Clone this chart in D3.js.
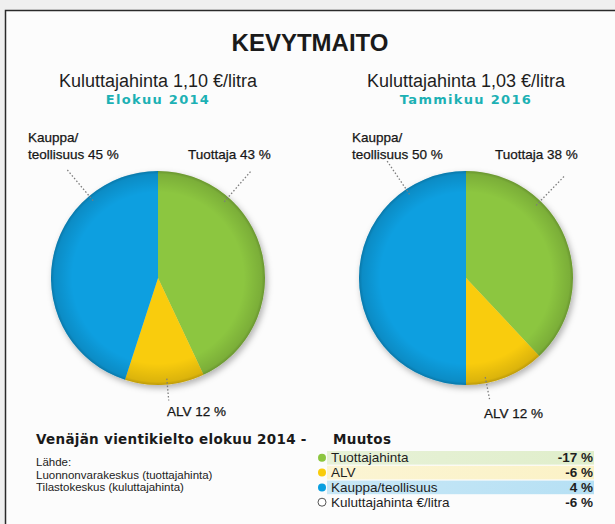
<!DOCTYPE html>
<html>
<head>
<meta charset="utf-8">
<script src="https://cdn.jsdelivr.net/npm/d3@7"></script>
<style>
  html, body { margin: 0; padding: 0; background: #efefef; }
  svg { display: block; }
</style>
</head>
<body>
<svg id="chart"></svg>
<script>
const width = 615, height = 524;

// data
const parts = ["Tuottaja", "ALV", "Kauppa/teollisuus"];
const pieTitles = ["Kuluttajahinta 1,10 €/litra", "Kuluttajahinta 1,03 €/litra"];
const pieDates = ["Elokuu 2014", "Tammikuu 2016"];
const shares2014 = [43, 12, 45];
const shares2016 = [38, 12, 50];
const changeNames = ["Tuottajahinta", "ALV", "Kauppa/teollisuus", "Kuluttajahinta €/litra"];
const changeValues = [-17, -6, 4, -6];
const sources = ["Lähde:", "Luonnonvarakeskus (tuottajahinta)", "Tilastokeskus (kuluttajahinta)"];

const colors = ["#8cc63f", "#f9cc0c", "#0a9fe0"];
const bandColors = ["#e0eecb", "#fbf2c6", "#b6e0f4"];
const narrow = "'Liberation Sans Narrow', 'Arial Narrow', 'Liberation Sans', sans-serif";
const wide = "'DejaVu Sans', sans-serif";

const svg = d3.select("#chart").attr("width", width).attr("height", height);

const defs = svg.append("defs");
const shadow = defs.append("filter").attr("id", "shadow")
    .attr("x", "-20%").attr("y", "-20%").attr("width", "140%").attr("height", "140%");
shadow.append("feDropShadow")
    .attr("dx", 2).attr("dy", 3).attr("stdDeviation", 3)
    .attr("flood-color", "#000").attr("flood-opacity", 0.3);

const rim = defs.append("radialGradient").attr("id", "rim");
rim.append("stop").attr("offset", "0.8").attr("stop-color", "#000").attr("stop-opacity", 0);
rim.append("stop").attr("offset", "0.97").attr("stop-color", "#000").attr("stop-opacity", 0.12);
rim.append("stop").attr("offset", "1").attr("stop-color", "#000").attr("stop-opacity", 0.25);

// panel
svg.append("rect")
    .attr("x", 5.5).attr("y", 10.5)
    .attr("width", width + 10).attr("height", height)
    .attr("fill", "#fcfcfc").attr("stroke", "#2a2a2a").attr("stroke-width", 1.5);

svg.append("text")
    .attr("x", 310).attr("y", 51)
    .attr("text-anchor", "middle")
    .attr("font-family", "'Liberation Sans', Arial, sans-serif")
    .attr("font-weight", "bold").attr("font-size", 24).attr("fill", "#1a1a1a")
    .text("KEVYTMAITO");

// pies
const x = d3.scaleBand().domain([0, 1]).range([4, 620]);
const r = 107, cy = 278;

const pie = d3.pie().sort(null).value(d => d);
const arc = d3.arc().innerRadius(0).outerRadius(r);

// label layout: angle of the leader on the slice, text offset from centre
const layouts = [
    [
        { angle: 41, len: 34, dx: 30, dy: -119 },
        { angle: 175, len: 16, dx: 9, dy: 138 },
        { angle: 320, len: 36, dx: -130, dy: -136 }
    ],
    [
        { angle: 44, len: 34, dx: 29, dy: -119 },
        { angle: 169, len: 18, dx: 18, dy: 140 },
        { angle: 326, len: 34, dx: -114, dy: -136 }
    ]
];

[shares2014, shares2016].forEach((shares, i) => {
    const cx = x(i) + x.bandwidth() / 2;
    const g = svg.append("g").attr("transform", `translate(${cx},${cy})`);

    svg.append("text")
        .attr("x", cx).attr("y", 87)
        .attr("text-anchor", "middle")
        .attr("font-family", narrow).attr("font-size", 18).attr("fill", "#1e1e1e")
        .text(pieTitles[i]);

    svg.append("text")
        .attr("x", cx).attr("y", 104)
        .attr("text-anchor", "middle")
        .attr("font-family", wide)
        .attr("font-weight", "bold").attr("font-size", 13)
        .attr("letter-spacing", 1.3)
        .attr("fill", "#1cb1b4")
        .text(pieDates[i]);

    const slices = g.append("g").attr("filter", "url(#shadow)");
    slices.selectAll("path")
        .data(pie(shares))
        .join("path")
        .attr("d", arc)
        .attr("fill", (d, j) => colors[j]);

    g.append("circle").attr("r", r).attr("fill", "url(#rim)");

    // leaders and labels
    layouts[i].forEach((l, j) => {
        const a = l.angle * Math.PI / 180;
        const p0 = d3.pointRadial(a, r - 6);
        const p1 = d3.pointRadial(a, r + l.len);
        g.append("line")
            .attr("x1", p0[0]).attr("y1", p0[1])
            .attr("x2", p1[0]).attr("y2", p1[1])
            .attr("stroke", "#7d7d7d").attr("stroke-width", 1.3)
            .attr("stroke-dasharray", "1.5,2");

        const words = j === 2
            ? ["Kauppa/", "teollisuus " + shares[j] + " %"]
            : [parts[j] + " " + shares[j] + " %"];
        const t = g.append("text")
            .attr("font-family", narrow).attr("font-size", 13.5)
            .attr("fill", "#161616").attr("stroke", "#161616").attr("stroke-width", 0.25);
        words.forEach((w, k) => {
            t.append("tspan").attr("x", l.dx).attr("y", l.dy + k * 17).text(w);
        });
    });
});

// bottom left
svg.append("text")
    .attr("x", 36).attr("y", 444)
    .attr("font-family", wide)
    .attr("font-weight", "bold").attr("font-size", 13.5).attr("letter-spacing", 0.3)
    .attr("fill", "#1a1a1a")
    .text("Venäjän vientikielto elokuu 2014 -");

const src = svg.append("text")
    .attr("font-family", narrow).attr("font-size", 11.5).attr("fill", "#222");
src.selectAll("tspan")
    .data(sources)
    .join("tspan")
    .attr("x", 36)
    .attr("y", (d, i) => 466 + i * 12.5)
    .text(d => d);

// change table
svg.append("text")
    .attr("x", 333).attr("y", 444)
    .attr("font-family", wide)
    .attr("font-weight", "bold").attr("font-size", 13.5).attr("letter-spacing", 0.3)
    .attr("fill", "#1a1a1a")
    .text("Muutos");

const y = d3.scaleBand().domain(d3.range(changeNames.length)).range([451, 509]).paddingInner(0.08);

changeNames.forEach((name, i) => {
    if (i < 3) {
        const gid = "band" + i;
        const grad = defs.append("linearGradient").attr("id", gid);
        grad.append("stop").attr("offset", 0).attr("stop-color", bandColors[i]).attr("stop-opacity", 0.75);
        grad.append("stop").attr("offset", 1).attr("stop-color", bandColors[i]);
        svg.append("rect")
            .attr("x", 327).attr("y", y(i))
            .attr("width", 267).attr("height", y.bandwidth())
            .attr("fill", `url(#${gid})`);
    }
    const cyRow = y(i) + y.bandwidth() / 2;
    svg.append("circle")
        .attr("cx", 322).attr("cy", cyRow).attr("r", 4)
        .attr("fill", i < 3 ? colors[i] : "#fff")
        .attr("stroke", i < 3 ? "none" : "#555").attr("stroke-width", 1);
    svg.append("text")
        .attr("x", 331).attr("y", cyRow + 4.5)
        .attr("font-family", narrow).attr("font-size", 13.5).attr("fill", "#1e1e1e")
        .text(name);
    svg.append("text")
        .attr("x", 593).attr("y", cyRow + 4.5)
        .attr("text-anchor", "end")
        .attr("font-family", narrow).attr("font-size", 13.5).attr("font-weight", "bold")
        .attr("fill", "#1e1e1e")
        .text(changeValues[i] + " %");
});
</script>
</body>
</html>
